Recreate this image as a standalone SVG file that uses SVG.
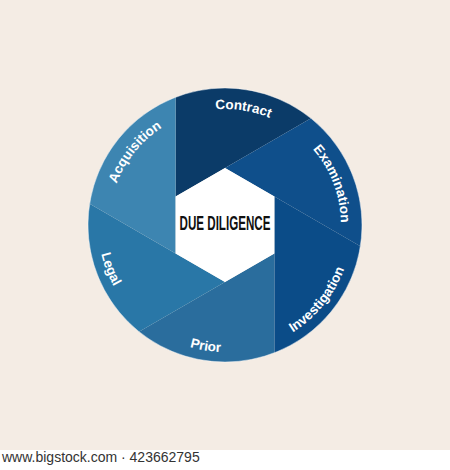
<svg xmlns="http://www.w3.org/2000/svg" xmlns:xlink="http://www.w3.org/1999/xlink" width="450" height="470" viewBox="0 0 450 470">
  <style>
    .lbl { font-family: "Liberation Sans", Arial, sans-serif; font-weight: bold; font-size: 13.5px; fill: #ffffff; }
    .title { font-family: "Liberation Sans Narrow", "Liberation Sans", Arial, sans-serif; font-weight: bold; font-size: 21px; fill: #111111; }
    .credit { font-family: "Liberation Sans", Arial, sans-serif; font-size: 14px; fill: #333333; }
  </style>
  <defs>
    <path id="topArc" d="M124.54,167 A116,116 0 0 1 325.46,167"/>
    <path id="botArc" d="M115.01,288.5 A127,127 0 0 0 334.99,288.5"/>
  </defs>
  <rect x="0" y="0" width="450" height="450" fill="#f4ece4"/>
  <rect x="0" y="450" width="450" height="20" fill="#ffffff"/>
  <text class="credit" x="2" y="462">www.bigstock.com · 423662795</text>

  <g id="segments">
    <g id="seg-contract">
      <path d="M175.64,196.5 L175.64,97.2 A137,137 0 0 1 311,118.35 L225,168 Z" fill="#0b3b68"/>
      <text class="lbl" text-anchor="middle" transform="rotate(9 225 225)"><textPath href="#topArc" xlink:href="#topArc" startOffset="50%">Contract</textPath></text>
    </g>
    <g id="seg-examination">
      <path d="M225,168 L311,118.35 A137,137 0 0 1 360.36,246.15 L274.36,196.5 Z" fill="#0f4f8b"/>
      <text class="lbl" text-anchor="middle" transform="rotate(69 225 225)"><textPath href="#topArc" xlink:href="#topArc" startOffset="50%">Examination</textPath></text>
    </g>
    <g id="seg-investigation">
      <path d="M274.36,196.5 L360.36,246.15 A137,137 0 0 1 274.36,352.8 L274.36,253.5 Z" fill="#0b4c88"/>
      <text class="lbl" text-anchor="middle" transform="rotate(-51 225 225)"><textPath href="#botArc" xlink:href="#botArc" startOffset="50%">Investigation</textPath></text>
    </g>
    <g id="seg-prior">
      <path d="M274.36,253.5 L274.36,352.8 A137,137 0 0 1 139,331.65 L225,282 Z" fill="#2a6d9d"/>
      <text class="lbl" text-anchor="middle" transform="rotate(9 225 225)"><textPath href="#botArc" xlink:href="#botArc" startOffset="50%">Prior</textPath></text>
    </g>
    <g id="seg-legal">
      <path d="M225,282 L139,331.65 A137,137 0 0 1 89.64,203.85 L175.64,253.5 Z" fill="#2977a7"/>
      <text class="lbl" text-anchor="middle" transform="rotate(69 225 225)"><textPath href="#botArc" xlink:href="#botArc" startOffset="50%">Legal</textPath></text>
    </g>
    <g id="seg-acquisition">
      <path d="M175.64,253.5 L89.64,203.85 A137,137 0 0 1 175.64,97.2 L175.64,196.5 Z" fill="#3d85b1"/>
      <text class="lbl" text-anchor="middle" transform="rotate(-51 225 225)"><textPath href="#topArc" xlink:href="#topArc" startOffset="50%">Acquisition</textPath></text>
    </g>
  </g>
  <circle cx="225" cy="225" r="137" fill="none" stroke="#ffffff" stroke-opacity="0.45" stroke-width="1"/>

  <g id="center">
    <polygon points="225,168 274.36,196.5 274.36,253.5 225,282 175.64,253.5 175.64,196.5" fill="#ffffff"/>
    <text class="title" x="225" y="230" text-anchor="middle" textLength="91" lengthAdjust="spacingAndGlyphs">DUE DILIGENCE</text>
  </g>
</svg>
